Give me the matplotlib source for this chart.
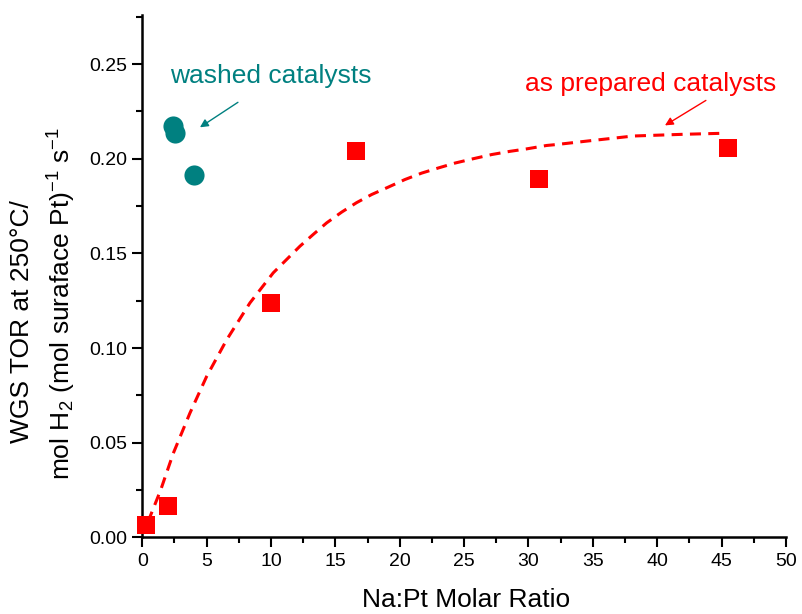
import matplotlib
matplotlib.use("Agg")
import matplotlib.pyplot as plt
from matplotlib.ticker import MultipleLocator, FormatStrFormatter

plt.rcParams['font.family'] = ['Liberation Sans', 'DejaVu Sans']
plt.rcParams['mathtext.fontset'] = 'custom'
plt.rcParams['mathtext.rm'] = 'Liberation Sans'
plt.rcParams['mathtext.it'] = 'Liberation Sans'
plt.rcParams['mathtext.default'] = 'regular'

# As-prepared catalysts: Na:Pt molar ratio vs. WGS turnover rate
prepared_ratio = [0.3, 2.0, 10.0, 16.6, 30.8, 45.5]
prepared_tor = [0.0065, 0.0167, 0.124, 0.2042, 0.1894, 0.2056]

# Washed catalysts
washed_ratio = [2.4, 2.55, 4.05]
washed_tor = [0.2172, 0.2138, 0.1912]

# Trend line through the as-prepared catalysts
trend_ratio = [0.44, 1.43, 2.41, 3.70, 5.0, 6.56, 8.36, 10.17, 12.25, 13.28,
               14.32, 15.49, 16.65, 17.82, 19.11, 20.40, 21.70, 22.99, 24.29,
               25.71, 27.14, 28.56, 29.86, 31.41, 32.19, 34.52, 38.14, 42.02,
               44.87]
trend_tor = [0.0081, 0.025, 0.0444, 0.0656, 0.085, 0.1044, 0.1238, 0.1397,
             0.1538, 0.160, 0.1661, 0.1718, 0.1768, 0.1811, 0.185, 0.189,
             0.1924, 0.1951, 0.1977, 0.200, 0.2022, 0.2039, 0.2052, 0.207,
             0.2075, 0.2093, 0.212, 0.2129, 0.2134]

red = '#ff0000'
teal = '#008080'

fig = plt.figure(figsize=(8.02, 6.14), dpi=100)
ax = fig.add_axes([0.1774, 0.1249, 0.8026, 0.8509])

ax.plot(trend_ratio, trend_tor, color=red, lw=2.2, ls=(0, (3.6, 2.4)),
        zorder=2)
ax.plot(prepared_ratio, prepared_tor, ls='none', marker='s', ms=13.2,
        mfc=red, mec=red, mew=0, clip_on=False, zorder=3)
ax.plot(washed_ratio, washed_tor, ls='none', marker='o', ms=14.5,
        mfc=teal, mec=teal, mew=0, clip_on=False, zorder=3)

ax.text(2.15, 0.2402, 'washed catalysts', color=teal, fontsize=19,
        ha='left', va='baseline')
ax.text(29.72, 0.2358, 'as prepared catalysts', color=red, fontsize=19,
        ha='left', va='baseline')
ax.annotate('', xy=(4.48, 0.2166), xytext=(7.43, 0.2298),
            arrowprops=dict(arrowstyle='-|>', color=teal, lw=1.0,
                            mutation_scale=12, shrinkA=0, shrinkB=0))
ax.annotate('', xy=(40.6, 0.2176), xytext=(43.78, 0.2308),
            arrowprops=dict(arrowstyle='-|>', color=red, lw=1.0,
                            mutation_scale=12, shrinkA=0, shrinkB=0))

ax.set_xlim(0, 50)
ax.set_ylim(0, 0.276)
ax.xaxis.set_major_locator(MultipleLocator(5))
ax.xaxis.set_minor_locator(MultipleLocator(2.5))
ax.yaxis.set_major_locator(MultipleLocator(0.05))
ax.yaxis.set_minor_locator(MultipleLocator(0.025))
ax.yaxis.set_major_formatter(FormatStrFormatter('%.2f'))
ax.xaxis.set_major_formatter(FormatStrFormatter('%d'))

for side in ('top', 'right'):
    ax.spines[side].set_visible(False)
for side in ('left', 'bottom'):
    ax.spines[side].set_linewidth(1.8)

ax.tick_params(which='major', direction='out', length=7, width=1.5,
               labelsize=14, pad=4)
ax.tick_params(which='minor', direction='out', length=4, width=1.5)

fig.text(0.581, 0.012, 'Na:Pt Molar Ratio', fontsize=19, ha='center',
         va='baseline')
fig.text(0.0274, 0.477, 'WGS TOR at 250\u00b0C/', fontsize=19,
         rotation=90, ha='center', va='center')
fig.text(0.0773, 0.5065,
         r'mol H$_2$ (mol suraface Pt)$^{-1}$ s$^{-1}$', fontsize=19,
         rotation=90, ha='center', va='center')

fig.savefig('out.png', dpi=100)
